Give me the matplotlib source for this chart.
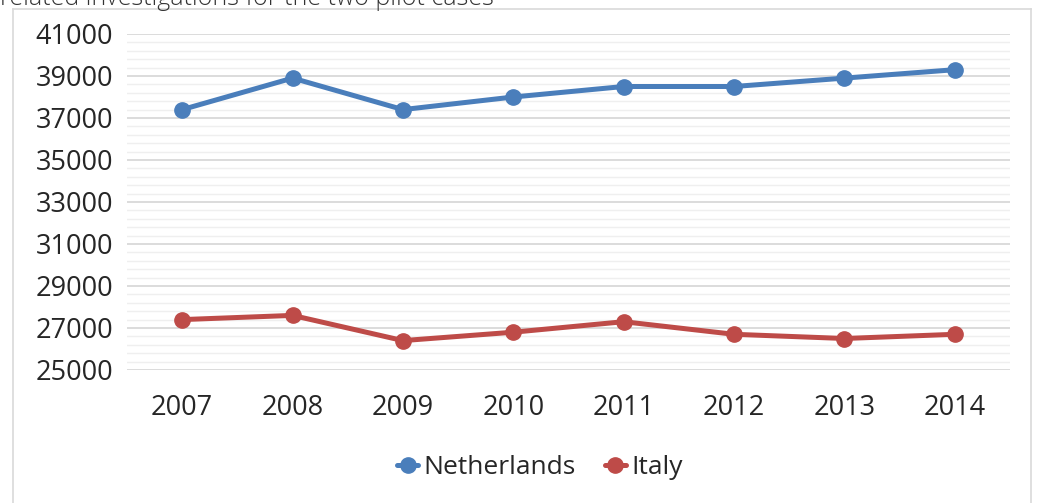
import matplotlib
matplotlib.use("Agg")
import matplotlib.pyplot as plt
from matplotlib.lines import Line2D
from matplotlib.ticker import FixedLocator

years = ["2007", "2008", "2009", "2010", "2011", "2012", "2013", "2014"]
netherlands = [37400, 38900, 37400, 38000, 38500, 38500, 38900, 39300]
italy = [27400, 27600, 26400, 26800, 27300, 26700, 26500, 26700]
series_names = ["Netherlands", "Italy"]
title_text = "related investigations for the two pilot cases"
y_min, y_max, y_major, y_minor = 25000, 41000, 2000, 400

BLUE = "#4A7EBB"
RED = "#BE4B48"
FONT = "Open Sans"

W, H = 1040, 503
fig = plt.figure(figsize=(W / 100, H / 100), dpi=100)
ax = fig.add_axes([127 / W, 1 - 370 / H, (1010 - 127) / W, (370 - 34) / H])

x = list(range(len(years)))
ax.plot(x, netherlands, color=BLUE, lw=3.6, marker="o", ms=11, label=series_names[0],
        solid_capstyle="round", zorder=3)
ax.plot(x, italy, color=RED, lw=3.6, marker="o", ms=11, label=series_names[1],
        solid_capstyle="round", zorder=3)

ax.set_xlim(-0.5, len(years) - 0.5)
ax.set_ylim(y_min, y_max)
ax.yaxis.set_major_locator(FixedLocator(list(range(y_min, y_max + 1, y_major))))
ax.yaxis.set_minor_locator(FixedLocator([v for v in range(y_min, y_max + 1, y_minor)
                                         if (v - y_min) % y_major]))
ax.grid(which="major", axis="y", color="#D9D9D9", lw=1.3)
ax.grid(which="minor", axis="y", color="#EFEFEF", lw=1.0)
ax.set_axisbelow(True)
ax.set_xticks(x)
ax.set_xticklabels(years)
for s in ax.spines.values():
    s.set_visible(False)
ax.tick_params(axis="both", which="both", length=0, labelsize=19.5, labelcolor="#262626")
ax.tick_params(axis="y", pad=10)
ax.tick_params(axis="x", pad=17)
for lab in ax.get_xticklabels() + ax.get_yticklabels():
    lab.set_fontfamily(FONT)

leg = fig.legend(loc="center", bbox_to_anchor=(540 / W, 1 - 468 / H), ncol=2, frameon=False,
                 prop={"family": FONT, "size": 19}, handlelength=0.8, handletextpad=0.2,
                 columnspacing=1.1, markerscale=1.0)
for t in leg.get_texts():
    t.set_color("#262626")

# chart border
bc = "#D9D9D9"
fig.add_artist(Line2D([13 / W, 13 / W], [0, 1 - 9 / H], color=bc, lw=1.2))
fig.add_artist(Line2D([1031 / W, 1031 / W], [0, 1 - 9 / H], color=bc, lw=1.2))
fig.add_artist(Line2D([13 / W, 1031 / W], [1 - 9 / H, 1 - 9 / H], color=bc, lw=1.2))

fig.text(0 / W, 1 - 5 / H, title_text, family=FONT, fontweight="light", fontsize=18,
         color="#333333", ha="left", va="baseline")

fig.savefig("out.png", dpi=100)
